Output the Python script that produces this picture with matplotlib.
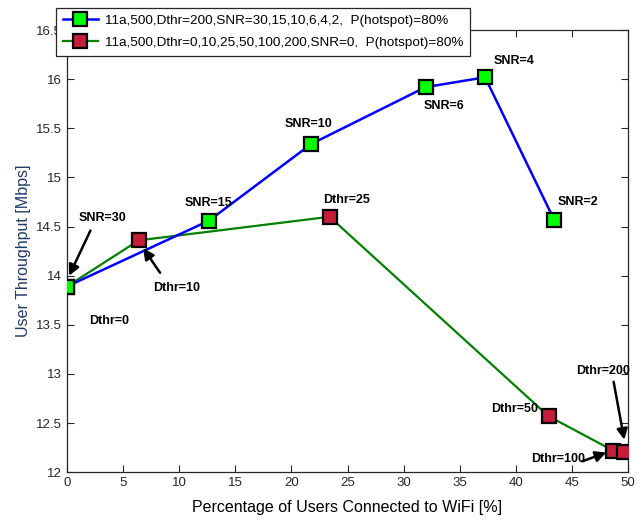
import matplotlib
matplotlib.use("Agg")
import matplotlib.pyplot as plt

plt.rcParams['font.family'] = ['Liberation Sans', 'DejaVu Sans']

# SNR sweep (Dthr fixed at 200)
snr_x = [0.0, 12.65, 21.75, 31.95, 37.25, 43.4]
snr_y = [13.89, 14.56, 15.34, 15.92, 16.02, 14.57]
snr_labels = ["SNR=30", "SNR=15", "SNR=10", "SNR=6", "SNR=4", "SNR=2"]

# Dthr sweep (SNR fixed at 0)
dthr_x = [0.0, 6.4, 23.4, 42.9, 48.65, 49.6]
dthr_y = [13.89, 14.36, 14.6, 12.57, 12.22, 12.21]
dthr_labels = ["Dthr=0", "Dthr=10", "Dthr=25", "Dthr=50", "Dthr=100", "Dthr=200"]

legend_labels = [
    "11a,500,Dthr=200,SNR=30,15,10,6,4,2,  P(hotspot)=80%",
    "11a,500,Dthr=0,10,25,50,100,200,SNR=0,  P(hotspot)=80%",
]
x_ticks = [0, 5, 10, 15, 20, 25, 30, 35, 40, 45, 50]
y_ticks = [12, 12.5, 13, 13.5, 14, 14.5, 15, 15.5, 16, 16.5]

fig = plt.figure(figsize=(6.43, 5.2), dpi=100)
ax = fig.add_axes([0.104, 0.092, 0.873, 0.850])

ax.plot(dthr_x, dthr_y, color='#008000', lw=1.6, marker='s', ms=9.5,
        mfc='#C41E3A', mec='black', mew=1.6, label=legend_labels[1], zorder=3)
ax.plot(snr_x, snr_y, color='#0000FF', lw=1.8, marker='s', ms=9.5,
        mfc='#00FF00', mec='black', mew=1.6, label=legend_labels[0], zorder=4)

ax.set_xlim(0, 50)
ax.set_ylim(12, 16.5)
ax.set_xticks(x_ticks)
ax.set_yticks(y_ticks)
ax.set_yticklabels([f"{t:g}" for t in y_ticks])
ax.tick_params(direction='in', top=True, right=True, labelsize=9.5,
               colors='#262626', length=5, width=0.8)
for s in ax.spines.values():
    s.set_color('#262626')
    s.set_linewidth(0.9)

ax.set_xlabel("Percentage of Users Connected to WiFi [%]", fontsize=11.5, labelpad=8)
ax.set_ylabel("User Throughput [Mbps]", fontsize=11.5, color='#1F3864', labelpad=4)

bold = dict(fontsize=9, fontweight='bold', ha='center', va='center', zorder=6)
arrow = dict(arrowstyle='-|>', color='black', lw=1.8, mutation_scale=16,
             shrinkA=0, shrinkB=0)

# plain text labels
ax.text(12.6, 14.74, snr_labels[1], **bold)
ax.text(21.5, 15.54, snr_labels[2], **bold)
ax.text(33.6, 15.73, snr_labels[3], **bold)
ax.text(39.8, 16.19, snr_labels[4], **bold)
ax.text(45.5, 14.75, snr_labels[5], **bold)
ax.text(3.75, 13.54, dthr_labels[0], **bold)
ax.text(24.9, 14.77, dthr_labels[2], **bold)
ax.text(42.0, 12.64, dthr_labels[3], **{**bold, 'ha': 'right'})

# arrow callouts
ax.text(3.2, 14.59, snr_labels[0], **bold)
ax.annotate("", xy=(0.2, 14.0), xytext=(2.1, 14.46), arrowprops=arrow, zorder=6)
ax.text(9.8, 13.87, dthr_labels[1], **bold)
ax.annotate("", xy=(6.8, 14.28), xytext=(8.3, 14.03), arrowprops=arrow, zorder=6)
ax.text(43.75, 12.13, dthr_labels[4], **bold)
ax.annotate("", xy=(48.05, 12.2), xytext=(45.9, 12.11), arrowprops=arrow, zorder=6)
ax.text(47.75, 13.03, dthr_labels[5], **bold)
ax.annotate("", xy=(49.65, 12.33), xytext=(48.7, 12.92), arrowprops=arrow, zorder=6)

h, l = ax.get_legend_handles_labels()
leg = fig.legend([h[1], h[0]], [l[1], l[0]], loc='upper left',
                 bbox_to_anchor=(0.087, 0.985), fontsize=9.7, frameon=True,
                 fancybox=False, edgecolor='#262626', framealpha=1,
                 handlelength=2.6, borderpad=0.5, labelspacing=0.7,
                 handletextpad=0.55, borderaxespad=0)
leg.set_zorder(10)
leg.get_frame().set_linewidth(0.9)

fig.savefig("out.png", dpi=100)
